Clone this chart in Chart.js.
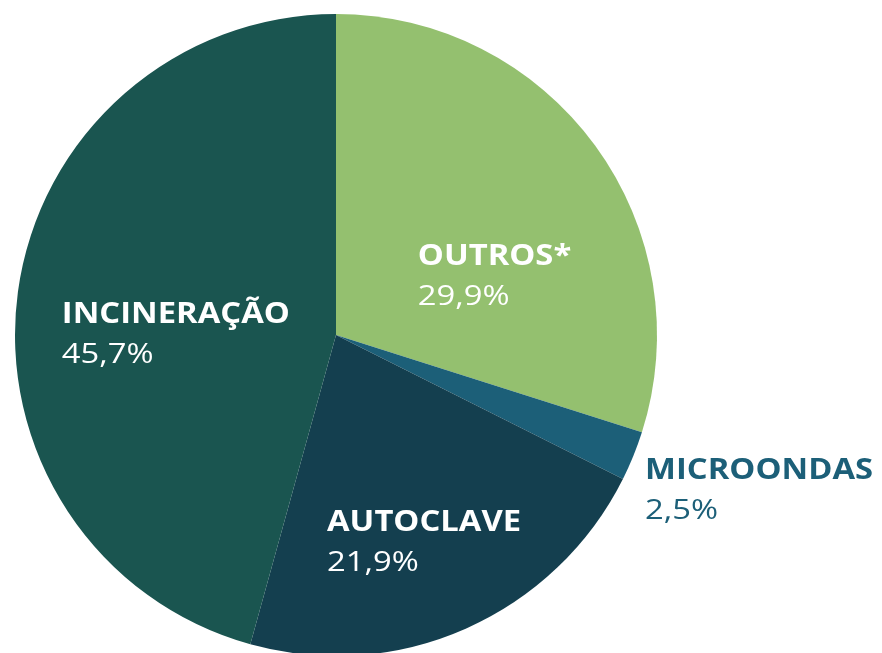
<!DOCTYPE html>
<html>
<head>
<meta charset="utf-8">
<script src="https://cdn.jsdelivr.net/npm/chart.js@4"></script>
<style>
    html, body { margin: 0; padding: 0; background: #fff; overflow: hidden; }
    #wrap { width: 882px; height: 660px; }
</style>
</head>
<body>
<div id="wrap"><canvas id="pieChart"></canvas></div>
<script>
// Treatment share (%), clockwise from 12 o'clock
const categories = ['OUTROS*', 'MICROONDAS', 'AUTOCLAVE', 'INCINERAÇÃO'];
const shares = [29.9, 2.5, 21.9, 45.7];
const shareLabels = ['29,9%', '2,5%', '21,9%', '45,7%'];
const sliceColors = ['#94c06f', '#1c5f78', '#143f4f', '#1a5550'];
const labelColors = ['#ffffff', '#1c5f78', '#ffffff', '#ffffff'];
// label anchor (left, baseline of first line) relative to centre, in radii
const labelPos = [[0.255, -0.218], [0.963, 0.449], [-0.028, 0.611], [-0.854, -0.037]];

const sliceLabels = {
    id: 'sliceLabels',
    afterDatasetsDraw(chart) {
        const ctx = chart.ctx;
        const arcs = chart.getDatasetMeta(0).data;
        ctx.save();
        ctx.textAlign = 'left';
        ctx.textBaseline = 'alphabetic';
        arcs.forEach(function(arc, i) {
            const r = arc.outerRadius;
            const x = arc.x + labelPos[i][0] * r;
            const y = arc.y + labelPos[i][1] * r;
            ctx.save();
            ctx.translate(x, y);
            ctx.scale(1.17, 1); // source type is set a bit wide
            ctx.fillStyle = labelColors[i];
            ctx.font = 'bold 28px "Open Sans"';
            ctx.fillText(categories[i], 0, 0);
            ctx.font = '28px "Open Sans"';
            ctx.fillText(shareLabels[i], 0, 40);
            ctx.restore();
        });
        ctx.restore();
    }
};

const ctx = document.getElementById('pieChart').getContext('2d');
new Chart(ctx, {
    type: 'pie',
    data: {
        labels: categories,
        datasets: [{
            data: shares,
            backgroundColor: sliceColors,
            borderWidth: 0
        }]
    },
    options: {
        responsive: true,
        maintainAspectRatio: false,
        animation: false,
        layout: { padding: { left: 15, top: 14, right: 225, bottom: 4 } },
        plugins: {
            legend: { display: false },
            tooltip: { enabled: false }
        }
    },
    plugins: [sliceLabels]
});
</script>
</body>
</html>
